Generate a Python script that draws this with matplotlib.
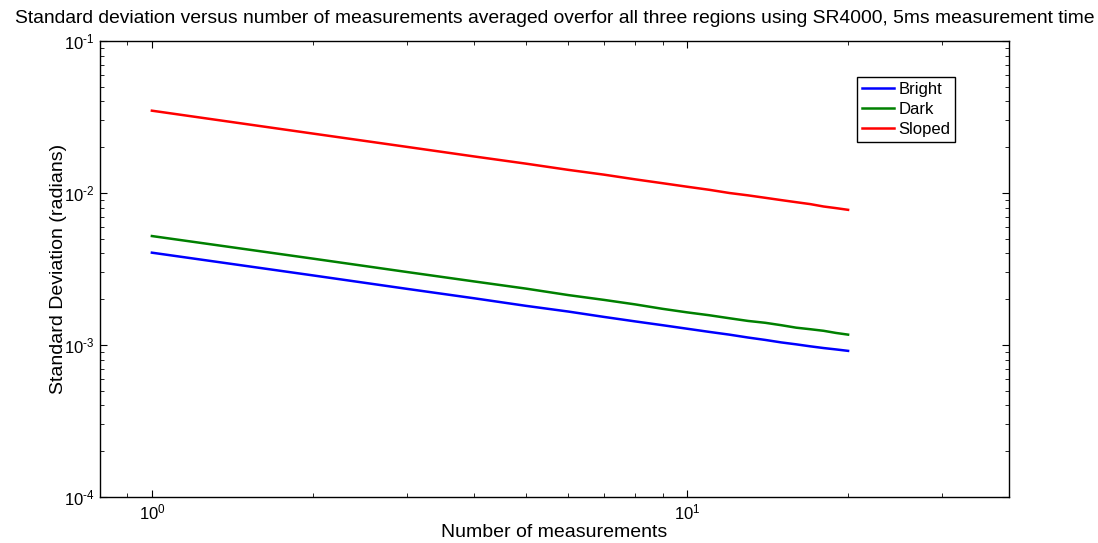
import matplotlib
matplotlib.use("Agg")
import matplotlib.pyplot as plt
from matplotlib.ticker import FuncFormatter
import numpy as np

plt.rcParams['font.family'] = ['Liberation Sans', 'DejaVu Sans']
plt.rcParams['mathtext.fontset'] = 'custom'
plt.rcParams['mathtext.rm'] = 'Liberation Sans'
plt.rcParams['mathtext.it'] = 'Liberation Sans'

# number of measurements averaged
n_meas = list(range(1, 21))

# standard deviation (radians)
bright = [0.00405, 0.00287, 0.00234, 0.00203, 0.00181, 0.00166, 0.00153, 0.00143,
          0.00135, 0.00128, 0.00122, 0.00117, 0.00112, 0.00108, 0.00104, 0.00101,
          0.000980, 0.000955, 0.000935, 0.000915]
dark = [0.00521, 0.00370, 0.00302, 0.00262, 0.00235, 0.00213, 0.00198, 0.00185,
        0.00173, 0.00164, 0.00157, 0.00150, 0.00144, 0.00140, 0.00135, 0.00130,
        0.00127, 0.00124, 0.00120, 0.00117]
sloped = [0.0348, 0.0246, 0.0201, 0.0174, 0.0156, 0.0142, 0.0132, 0.0123,
          0.0116, 0.0110, 0.0105, 0.0100, 0.00965, 0.00930, 0.00898, 0.00870,
          0.00845, 0.00815, 0.00795, 0.00775]


def pow10(v, pos):
    e = int(round(np.log10(v)))
    # hyphen style minus like the original
    return r'$10^{\mathrm{%s}}$' % (str(e).replace('-', '\u2010') if e < 0 else str(e))


fig = plt.figure(figsize=(10.98, 5.43), dpi=100)
ax = fig.add_axes([0.0911, 0.0847, 0.828, 0.8398])

ax.loglog(n_meas, bright, color=(0, 0, 1), lw=1.8, label='Bright')
ax.loglog(n_meas, dark, color=(0, 0.5, 0), lw=1.8, label='Dark')
ax.loglog(n_meas, sloped, color=(1, 0, 0), lw=1.8, label='Sloped')

ax.set_xlim(0.8, 40)
ax.set_ylim(1e-4, 1e-1)
ax.xaxis.set_major_formatter(FuncFormatter(pow10))
ax.yaxis.set_major_formatter(FuncFormatter(pow10))

ax.tick_params(which='both', direction='in', top=True, right=True, labelsize=12)
ax.tick_params(which='major', length=5, pad=4)
ax.tick_params(which='minor', length=3)
for s in ax.spines.values():
    s.set_linewidth(1.0)

ax.set_xlabel('Number of measurements', fontsize=14, labelpad=1)
ax.set_ylabel('Standard Deviation (radians)', fontsize=14, labelpad=-2)
ax.set_title('Standard deviation versus number of measurements averaged overfor all three regions using SR4000, 5ms measurement time',
             fontsize=13.9, pad=13)

leg = ax.legend(loc='upper left', bbox_to_anchor=(0.833, 0.921), fontsize=12,
                fancybox=False, framealpha=1, edgecolor='black', borderaxespad=0,
                handlelength=1.9, handletextpad=0.25, borderpad=0.3, labelspacing=0.3)
leg.get_frame().set_linewidth(1.0)

fig.savefig('out.png', dpi=100)
